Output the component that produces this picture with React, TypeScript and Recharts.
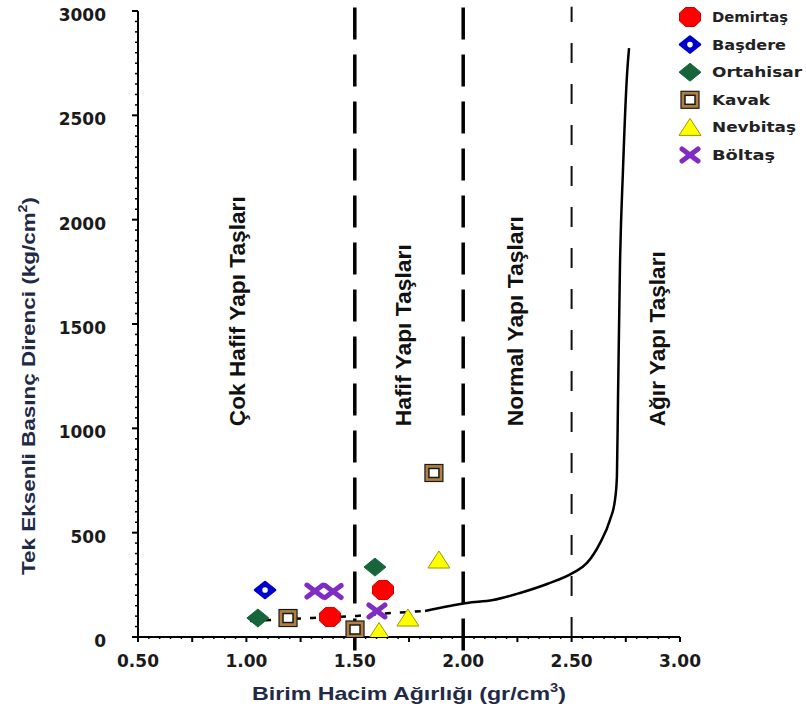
import React from 'react';
import {
  ComposedChart,
  XAxis,
  YAxis,
  Scatter,
  Line,
  ReferenceLine,
  Legend,
} from 'recharts';

// ---------- data ----------
const demirtas = [
  { x: 1.386, y: 96 },
  { x: 1.63, y: 225 },
];
const basdere = [{ x: 1.086, y: 225 }];
const ortahisar = [
  { x: 1.053, y: 91 },
  { x: 1.593, y: 335 },
];
const kavak = [
  { x: 1.192, y: 91 },
  { x: 1.501, y: 36 },
  { x: 1.865, y: 786 },
];
const nevbitas = [
  { x: 1.612, y: 26 },
  { x: 1.745, y: 91 },
  { x: 1.888, y: 369 },
];
const boltas = [
  { x: 1.316, y: 220 },
  { x: 1.4, y: 218 },
  { x: 1.602, y: 125 },
];

// classification curve (solid part)
const curve = [
  { x: 1.824, y: 125 },
  { x: 2.018, y: 163 },
  { x: 2.137, y: 177 },
  { x: 2.262, y: 211 },
  { x: 2.387, y: 254 },
  { x: 2.506, y: 307 },
  { x: 2.571, y: 355 },
  { x: 2.631, y: 450 },
  { x: 2.677, y: 561 },
  { x: 2.7, y: 656 },
  { x: 2.709, y: 767 },
  { x: 2.714, y: 1136 },
  { x: 2.723, y: 1773 },
  { x: 2.737, y: 2238 },
  { x: 2.755, y: 2683 },
  { x: 2.765, y: 2822 },
];
// dashed lower part of the curve
const curveDashed = [
  { x: 1.017, y: 77 },
  { x: 1.303, y: 91 },
  { x: 1.51, y: 101 },
  { x: 1.672, y: 115 },
  { x: 1.824, y: 125 },
];

const boundaries = [1.5, 2.0, 2.5];

const regionLabels = [
  { x: 0.957, y: 1010, text: 'Çok Hafif Yapı Taşları' },
  { x: 1.722, y: 1010, text: 'Hafif Yapı Taşları' },
  { x: 2.239, y: 1010, text: 'Normal Yapı Taşları' },
  { x: 2.894, y: 1010, text: 'Ağır Yapı Taşları' },
];

const seriesNames = ['Demirtaş', 'Başdere', 'Ortahisar', 'Kavak', 'Nevbitaş', 'Böltaş'];
const seriesKinds = ['demirtas', 'basdere', 'ortahisar', 'kavak', 'nevbitas', 'boltas'];
const seriesData = [demirtas, basdere, ortahisar, kavak, nevbitas, boltas];

const xTickLabels = ['0.50', '1.00', '1.50', '2.00', '2.50', '3.00'];
const yTickLabels = ['0', '500', '1000', '1500', '2000', '2500', '3000'];

const xTitle = 'Birim Hacim Ağırlığı (gr/cm';
const yTitle = 'Tek Eksenli Basınç Direnci (kg/cm';

// ---------- styles ----------
const W = 806;
const H = 718;
const TICK_FONT = '"DejaVu Sans", sans-serif';
const SANS = '"Liberation Sans", Arial, sans-serif';
const legendTextLen: Record<string, number> = {
  'Demirtaş': 76,
  'Başdere': 74,
  'Ortahisar': 90,
  'Kavak': 58,
  'Nevbitaş': 84,
  'Böltaş': 63,
};
const regionTextLen: Record<string, number> = {
  'Çok Hafif Yapı Taşları': 230,
  'Hafif Yapı Taşları': 182,
  'Normal Yapı Taşları': 210,
  'Ağır Yapı Taşları': 175,
};

// minor tick positions on axes
const xTicks: number[] = [];
for (let i = 0; i <= 50; i++) xTicks.push(Math.round((0.5 + i * 0.05) * 100) / 100);
const yTicks: number[] = [];
for (let i = 0; i <= 60; i++) yTicks.push(i * 50);

// ---------- markers ----------
function Marker({ kind, cx, cy }: { kind: string; cx: number; cy: number }) {
  if (cx == null || cy == null) return null;
  switch (kind) {
    case 'demirtas': {
      const rx = 10.5;
      const ry = 9.5;
      const k = 0.42;
      const pts = [
        [-rx * k, -ry], [rx * k, -ry], [rx, -ry * k], [rx, ry * k],
        [rx * k, ry], [-rx * k, ry], [-rx, ry * k], [-rx, -ry * k],
      ].map(([a, b]) => `${cx + a},${cy + b}`).join(' ');
      return <polygon points={pts} fill="#ff0000" stroke="#d00000" strokeWidth={1} />;
    }
    case 'basdere': {
      const pts = `${cx},${cy - 8} ${cx + 10},${cy} ${cx},${cy + 8} ${cx - 10},${cy}`;
      return (
        <g>
          <polygon points={pts} fill="#0000cc" stroke="#0000cc" strokeWidth={2.5} strokeLinejoin="round" />
          <circle cx={cx} cy={cy} r={4} fill="#0000cc" />
          <circle cx={cx} cy={cy} r={2.8} fill="#ffffff" />
        </g>
      );
    }
    case 'ortahisar': {
      const pts = `${cx},${cy - 9} ${cx + 11},${cy} ${cx},${cy + 9} ${cx - 11},${cy}`;
      return <polygon points={pts} fill="#17653a" stroke="#17653a" strokeWidth={1} strokeLinejoin="round" />;
    }
    case 'kavak':
      return (
        <g>
          <rect x={cx - 9} y={cy - 8.5} width={18} height={17} fill="#b08040" stroke="#1a1a1a" strokeWidth={1.2} />
          <rect x={cx - 5} y={cy - 4.5} width={10} height={9} fill="#ffffff" stroke="#1a1a1a" strokeWidth={1.5} />
        </g>
      );
    case 'nevbitas': {
      const pts = `${cx},${cy - 9} ${cx + 11},${cy + 8} ${cx - 11},${cy + 8}`;
      return <polygon points={pts} fill="#ffff00" stroke="#9a9a00" strokeWidth={1} strokeLinejoin="round" />;
    }
    case 'boltas':
      return (
        <g stroke="#7f2cc4" strokeWidth={5} strokeLinecap="round">
          <line x1={cx - 8} y1={cy - 6} x2={cx + 8} y2={cy + 6} />
          <line x1={cx - 8} y1={cy + 6} x2={cx + 8} y2={cy - 6} />
        </g>
      );
    default:
      return null;
  }
}

const makeShape = (kind: string) => (props: any) => <Marker kind={kind} cx={props.cx} cy={props.cy} />;

const RegionShape = (props: any) => {
  const { cx, cy, payload } = props;
  if (cx == null || cy == null) return null;
  return (
    <text
      x={cx}
      y={cy}
      dy="0.35em"
      transform={`rotate(-90 ${cx} ${cy})`}
      textAnchor="start"
      fontFamily={SANS}
      fontWeight="bold"
      fontSize={22}
      fill="#111"
      textLength={regionTextLen[payload.text]}
      lengthAdjust="spacingAndGlyphs"
    >
      {payload.text}
    </text>
  );
};

// ---------- ticks ----------
const XTick = (props: any) => {
  const { x, y, payload } = props;
  const v = payload.value as number;
  const isMajor = Math.abs(v * 2 - Math.round(v * 2)) < 1e-6;
  const isMid = Math.abs(v * 4 - Math.round(v * 4)) < 1e-6;
  const len = isMajor || isMid ? 5 : 2;
  const idx = Math.round((v - 0.5) * 2);
  return (
    <g>
      <line x1={x} y1={y} x2={x} y2={y + len} stroke="#000" strokeWidth={isMajor || isMid ? 2 : 1.5} />
      {isMajor && (
        <text
          x={x}
          y={y + 30}
          textAnchor="middle"
          fontFamily={TICK_FONT}
          fontWeight="bold"
          fontSize={17}
          fill="#1a1a1a"
        >
          {xTickLabels[idx]}
        </text>
      )}
    </g>
  );
};

const YTick = (props: any) => {
  const { x, y, payload } = props;
  const v = payload.value as number;
  const isMajor = v % 500 === 0;
  const len = isMajor ? 6 : 3;
  return (
    <g>
      <line x1={x - len} y1={y} x2={x} y2={y} stroke="#000" strokeWidth={isMajor ? 2 : 1.5} />
      {isMajor && (
        <text
          x={x - 32}
          y={y + 4}
          dy="0.35em"
          textAnchor="end"
          fontFamily={TICK_FONT}
          fontWeight="bold"
          fontSize={17}
          fill="#1a1a1a"
        >
          {yTickLabels[v / 500]}
        </text>
      )}
    </g>
  );
};

// ---------- legend ----------
const LegendContent = () => (
  <svg width={130} height={172} style={{ display: 'block' }}>
    {seriesNames.map((name, i) => {
      const cy = 15 + i * 27.6;
      return (
        <g key={name}>
          <Marker kind={seriesKinds[i]} cx={14} cy={cy} />
          <text
            x={36}
            y={cy}
            dy="0.35em"
            fontFamily={TICK_FONT}
            fontWeight="bold"
            fontSize={14}
            fill="#222"
            textLength={legendTextLen[name]}
            lengthAdjust="spacingAndGlyphs"
          >
            {name}
          </text>
        </g>
      );
    })}
  </svg>
);

export default function App() {
  return (
    <div style={{ position: 'absolute', left: 0, top: 0, width: W, height: H, background: '#fff' }}>
      <ComposedChart
        width={W}
        height={H}
        margin={{ top: 11, right: 126, left: 0, bottom: 0 }}
      >
        <XAxis
          type="number"
          dataKey="x"
          domain={[0.5, 3]}
          ticks={xTicks}
          interval={0}
          allowDataOverflow
          height={81}
          axisLine={{ stroke: '#000', strokeWidth: 2 }}
          tickLine={false}
          tickSize={0}
          tickMargin={0}
          tick={<XTick />}
          label={{
            position: 'insideBottom',
            content: (p: any) => {
              const vb = p.viewBox || {};
              const cx = (vb.x ?? 138) + (vb.width ?? 542) / 2;
              return (
                <text
                  x={cx}
                  y={700}
                  textAnchor="middle"
                  fontFamily={SANS}
                  fontWeight="bold"
                  fontSize={19}
                  fill="#1f2a48"
                  textLength={314}
                  lengthAdjust="spacingAndGlyphs"
                >
                  {xTitle}
                  <tspan dy={-8} fontSize={12}>3</tspan>
                  <tspan dy={8}>)</tspan>
                </text>
              );
            },
          }}
        />
        <YAxis
          type="number"
          domain={[0, 3000]}
          ticks={yTicks}
          interval={0}
          allowDataOverflow
          width={138}
          axisLine={{ stroke: '#000', strokeWidth: 2 }}
          tickLine={false}
          tickSize={0}
          tickMargin={0}
          tick={<YTick />}
          label={{
            position: 'insideLeft',
            content: () => {
              const cx = 28;
              const cy = 386;
              return (
                <text
                  x={cx}
                  y={cy}
                  dy="0.35em"
                  transform={`rotate(-90 ${cx} ${cy})`}
                  textAnchor="middle"
                  fontFamily={SANS}
                  fontWeight="bold"
                  fontSize={19}
                  fill="#1f2a48"
                  textLength={378}
                  lengthAdjust="spacingAndGlyphs"
                >
                  {yTitle}
                  <tspan dy={-8} fontSize={12}>2</tspan>
                  <tspan dy={8}>)</tspan>
                </text>
              );
            },
          }}
        />

        {boundaries.map((b, i) => (
          <ReferenceLine
            key={b}
            segment={[
              { x: b, y: i < 2 ? -65 : 0 },
              { x: b, y: 3020 },
            ]}
            ifOverflow="visible"
            stroke={i < 2 ? '#000' : '#111'}
            strokeWidth={i < 2 ? 3.5 : 2}
            strokeDasharray={i < 2 ? '32 15' : '20 21'}
          />
        ))}

        <Line
          data={curveDashed}
          dataKey="y"
          type="linear"
          stroke="#000"
          strokeWidth={2.5}
          strokeDasharray="6 9"
          dot={false}
          activeDot={false}
          isAnimationActive={false}
          legendType="none"
        />
        <Line
          data={curve}
          dataKey="y"
          type="monotone"
          stroke="#000"
          strokeWidth={2.5}
          dot={false}
          activeDot={false}
          isAnimationActive={false}
          legendType="none"
        />

        <Scatter
          data={regionLabels}
          dataKey="y"
          shape={RegionShape}
          isAnimationActive={false}
          legendType="none"
        />

        {seriesData.map((d, i) => (
          <Scatter
            key={seriesNames[i]}
            name={seriesNames[i]}
            data={d}
            dataKey="y"
            shape={makeShape(seriesKinds[i])}
            isAnimationActive={false}
          />
        ))}

        <Legend
          layout="vertical"
          align="center"
          verticalAlign="middle"
          content={LegendContent}
          wrapperStyle={{ left: 676, top: 2, width: 130, height: 172 }}
        />
      </ComposedChart>
    </div>
  );
}
